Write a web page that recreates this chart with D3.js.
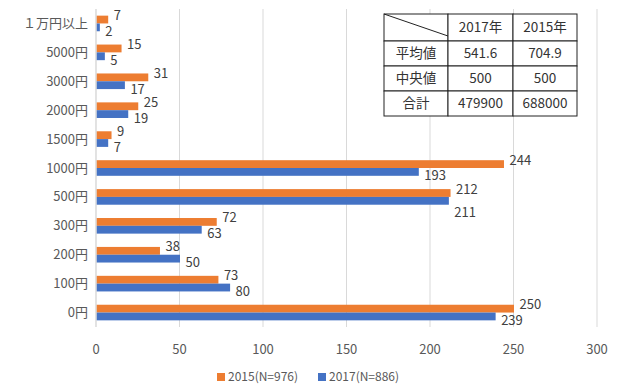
<!DOCTYPE html>
<html>
<head>
<meta charset="utf-8">
<script src="https://cdn.jsdelivr.net/npm/d3@7"></script>
<style>
  body { margin: 0; background: #fff; }
  text { font-family: "Noto Sans CJK JP", "Noto Sans", sans-serif; }
</style>
</head>
<body>
<div id="chart"></div>
<script>
// data
var categories = ["１万円以上", "5000円", "3000円", "2000円", "1500円", "1000円", "500円", "300円", "200円", "100円", "0円"];
var values2015 = [7, 15, 31, 25, 9, 244, 212, 72, 38, 73, 250];
var values2017 = [2, 5, 17, 19, 7, 193, 211, 63, 50, 80, 239];
var seriesNames = ["2015(N=976)", "2017(N=886)"];
var xTicks = [0, 50, 100, 150, 200, 250, 300];
var tableHeader = ["", "2017年", "2015年"];
var tableRows = [
  ["平均値", "541.6", "704.9"],
  ["中央値", "500", "500"],
  ["合計", "479900", "688000"]
];

var W = 617, H = 389;
var margin = {top: 9, right: 20, bottom: 62, left: 96};
var width = 597 - margin.left,
    height = 327 - margin.top;
var colors = ["#ED7D31", "#4472C4"];

var svg = d3.select("#chart").append("svg")
  .attr("width", W).attr("height", H);
var g = svg.append("g")
  .attr("transform", "translate(" + margin.left + "," + margin.top + ")");

var x = d3.scaleLinear().domain([0, 300]).range([0, width]);
var y = d3.scaleBand().domain(categories).range([0, height]).paddingInner(0.46).paddingOuter(0.23);
var ySub = d3.scaleBand().domain([0, 1]).range([0, y.bandwidth()]);

// gridlines
g.selectAll("line.grid")
  .data(xTicks)
  .enter().append("line")
  .attr("x1", function(d) { return x(d); })
  .attr("x2", function(d) { return x(d); })
  .attr("y1", 0).attr("y2", height)
  .attr("stroke", "#d9d9d9").attr("stroke-width", 1);

// x axis labels
g.selectAll("text.xtick")
  .data(xTicks)
  .enter().append("text")
  .attr("x", function(d) { return x(d); })
  .attr("y", height + 27)
  .attr("text-anchor", "middle")
  .attr("font-size", 13)
  .attr("fill", "#595959")
  .text(function(d) { return d; });

// y axis labels
g.selectAll("text.ytick")
  .data(categories)
  .enter().append("text")
  .attr("x", -8)
  .attr("y", function(d) { return y(d) + y.bandwidth() / 2; })
  .attr("dy", "0.35em")
  .attr("text-anchor", "end")
  .attr("font-size", 13)
  .attr("fill", "#595959")
  .text(function(d) { return d; });

// bars
var series = [values2015, values2017];
series.forEach(function(vals, si) {
  g.selectAll("rect.s" + si)
    .data(vals)
    .enter().append("rect")
    .attr("x", x(0) + 0.5)
    .attr("y", function(d, i) { return y(categories[i]) + ySub(si); })
    .attr("width", function(d) { return x(d) - x(0); })
    .attr("height", ySub.bandwidth())
    .attr("fill", colors[si]);

  g.selectAll("text.l" + si)
    .data(vals)
    .enter().append("text")
    .attr("x", function(d) { return x(d) + 6; })
    .attr("y", function(d, i) {
      var off = si === 0 ? -4 : 4;
      // push the lower label down when both labels would sit on top of each other
      if (si === 1 && Math.abs(values2015[i] - values2017[i]) <= 1) off += 8;
      return y(categories[i]) + ySub(si) + ySub.bandwidth() / 2 + off;
    })
    .attr("dy", "0.35em")
    .attr("font-size", 13)
    .attr("fill", "#404040")
    .text(function(d) { return d; });
});

// axis line at zero
g.append("line")
  .attr("x1", x(0)).attr("x2", x(0))
  .attr("y1", 0).attr("y2", height)
  .attr("stroke", "#d9d9d9");

// table
var tx = 384, ty = 14, colW = [64, 65, 64], rowH = [27, 25, 25, 25];
var tbl = svg.append("g");
var allRows = [tableHeader].concat(tableRows);
var cy = ty;
allRows.forEach(function(row, ri) {
  var cx = tx;
  row.forEach(function(cell, ci) {
    tbl.append("rect")
      .attr("x", cx).attr("y", cy)
      .attr("width", colW[ci]).attr("height", rowH[ri])
      .attr("fill", "#fff").attr("stroke", "#222").attr("stroke-width", 1);
    tbl.append("text")
      .attr("x", cx + colW[ci] / 2)
      .attr("y", cy + rowH[ri] / 2)
      .attr("dy", "0.35em")
      .attr("text-anchor", "middle")
      .attr("font-size", 13.5)
      .attr("fill", "#333")
      .text(cell);
    cx += colW[ci];
  });
  cy += rowH[ri];
});
// diagonal in header corner
tbl.append("line")
  .attr("x1", tx).attr("y1", ty)
  .attr("x2", tx + colW[0]).attr("y2", ty + 22)
  .attr("stroke", "#222");

// legend
var legend = svg.append("g").attr("transform", "translate(217,371)");
var lx = [0, 101];
seriesNames.forEach(function(name, i) {
  legend.append("rect")
    .attr("x", lx[i]).attr("y", 2)
    .attr("width", 8).attr("height", 8)
    .attr("fill", colors[i]);
  legend.append("text")
    .attr("x", lx[i] + 11).attr("y", 6)
    .attr("dy", "0.35em")
    .attr("font-size", 12)
    .attr("fill", "#595959")
    .text(name);
});
</script>
</body>
</html>
